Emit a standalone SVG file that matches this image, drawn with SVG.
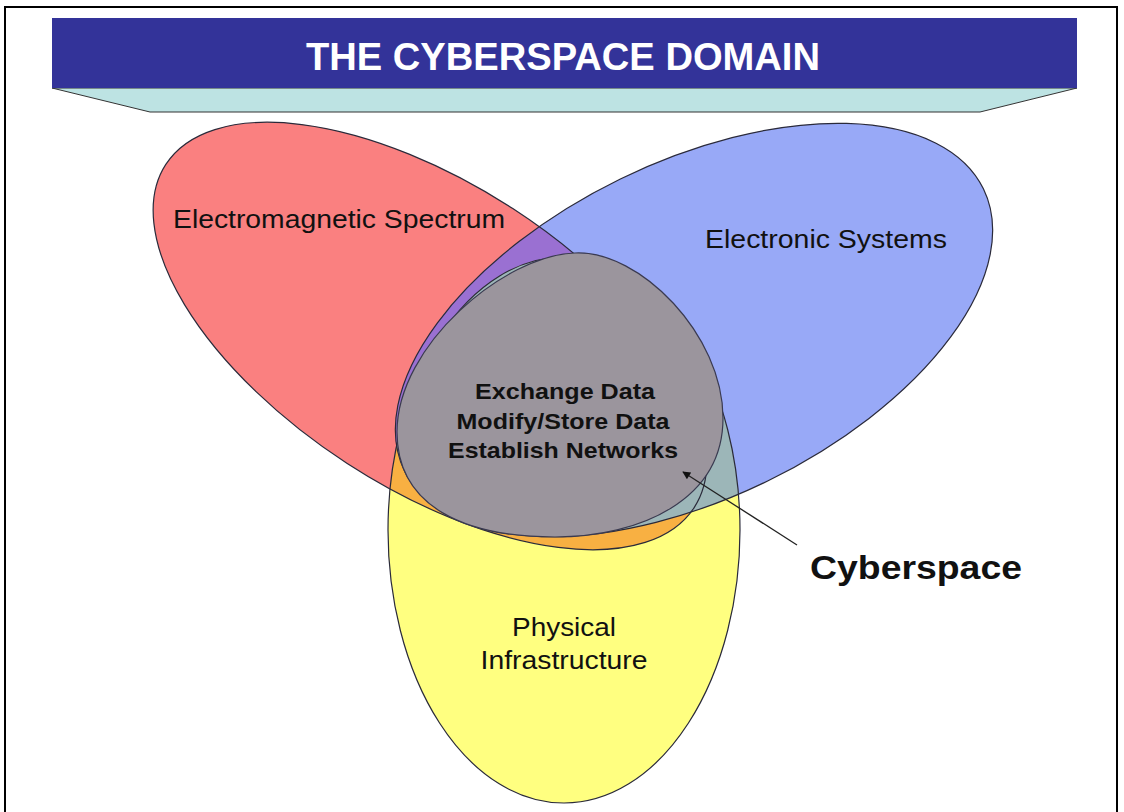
<svg xmlns="http://www.w3.org/2000/svg" width="1124" height="812" viewBox="0 0 1124 812">
<style>
.lbl{font-family:"Liberation Sans",Arial,sans-serif;fill:#111}
.c{text-anchor:middle}
.b{font-weight:bold}
.ol{fill:none;stroke:#2a2a3a;stroke-width:1.2}
</style>
<defs>
<ellipse id="eRed" cx="430" cy="336" rx="315" ry="152" transform="rotate(33 430 336)"/>
<ellipse id="eBlue" cx="694" cy="330" rx="322" ry="168" transform="rotate(-26 694 330)"/>
<ellipse id="eYel" cx="564" cy="530" rx="176" ry="273"/>
<clipPath id="cRed"><use href="#eRed"/></clipPath>
<clipPath id="cBlue"><use href="#eBlue"/></clipPath>
<marker id="ah" viewBox="0 0 10 10" refX="9" refY="5" markerWidth="10" markerHeight="8" orient="auto" markerUnits="userSpaceOnUse"><path d="M0,0 L10,5 L0,10 z" fill="#111"/></marker>
</defs>
<rect width="1124" height="812" fill="#fff"/>
<path d="M5,812 V7 H1117 V812" fill="none" stroke="#000" stroke-width="2"/>
<g id="header">
<polygon points="52,88 1077,88 980,112 150,112" fill="#BDE3E3" stroke="#333" stroke-width="1"/>
<rect x="52" y="18" width="1025" height="70" fill="#333399"/>
<text x="563" y="70" class="c b" font-family="'Liberation Sans',Arial,sans-serif" font-size="39" fill="#fff" textLength="514" lengthAdjust="spacingAndGlyphs">THE CYBERSPACE DOMAIN</text>
</g>
<g id="venn">
<use href="#eRed" fill="#FA8080"/>
<use href="#eBlue" fill="#98A9F7"/>
<use href="#eYel" fill="#FFFF80"/>
<g clip-path="url(#cRed)"><use href="#eBlue" fill="#9A70D2"/><use href="#eYel" fill="#F8B042"/></g>
<g clip-path="url(#cBlue)"><use href="#eYel" fill="#9CB6B8"/></g>
<use href="#eRed" class="ol"/>
<use href="#eBlue" class="ol"/>
<use href="#eYel" class="ol"/>
</g>
<g id="node-electromagnetic"><text x="173" y="228" class="lbl" font-size="26" textLength="332" lengthAdjust="spacingAndGlyphs">Electromagnetic Spectrum</text></g>
<g id="node-electronic"><text x="705" y="248" class="lbl" font-size="25" textLength="242" lengthAdjust="spacingAndGlyphs">Electronic Systems</text></g>
<g id="node-physical"><text x="564" y="636" class="lbl c" font-size="25" textLength="104" lengthAdjust="spacingAndGlyphs">Physical</text><text x="564" y="669" class="lbl c" font-size="25" textLength="167" lengthAdjust="spacingAndGlyphs">Infrastructure</text></g>
<g id="node-cyberspace">
<path d="M575,253 C640,250 723,335 723,418 C723,500 640,537 555,537 C465,537 397,507 397,432 C397,345 505,255 575,253 Z" fill="#9B959D" stroke="#3a3a50" stroke-width="1.2"/>
<text x="565" y="399" class="lbl c b" font-size="22" textLength="180" lengthAdjust="spacingAndGlyphs">Exchange Data</text>
<text x="563" y="429" class="lbl c b" font-size="22" textLength="213" lengthAdjust="spacingAndGlyphs">Modify/Store Data</text>
<text x="563" y="458" class="lbl c b" font-size="22" textLength="230" lengthAdjust="spacingAndGlyphs">Establish Networks</text>
</g>
<g id="connectors"><line x1="797" y1="545" x2="683" y2="472" stroke="#222" stroke-width="1.3" marker-end="url(#ah)"/></g>
<g id="label-cyberspace"><text x="810" y="579" class="lbl b" font-size="33" textLength="212" lengthAdjust="spacingAndGlyphs">Cyberspace</text></g>
</svg>
